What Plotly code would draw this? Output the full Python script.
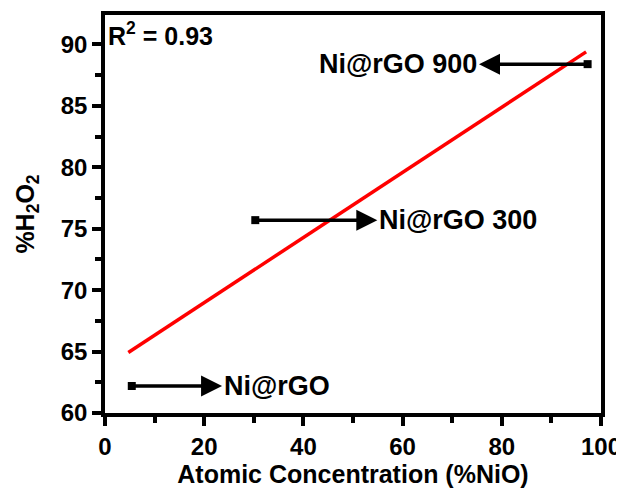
import numpy as np
import plotly.graph_objects as go

# Data
samples = ["Ni@rGO", "Ni@rGO 300", "Ni@rGO 900"]
nio_conc = [5.4, 30.3, 97.3]        # Atomic concentration (% NiO)
h2o2_pct = [62.2, 75.7, 88.4]       # % H2O2
r2_text = "R<sup>2</sup> = 0.93"

# Linear fit of the data
slope, intercept = np.polyfit(nio_conc, h2o2_pct, 1)
fit_x = np.array([min(nio_conc) - 0.7, max(nio_conc) - 0.3])
fit_y = slope * fit_x + intercept

FONT = "Liberation Sans, Arial, sans-serif"

fig = go.Figure()
fig.add_trace(go.Scatter(x=fit_x, y=fit_y, mode="lines",
                         line=dict(color="#ff0000", width=3.5), showlegend=False))
fig.add_trace(go.Scatter(x=nio_conc, y=h2o2_pct, mode="markers",
                         marker=dict(symbol="square", size=8, color="black"),
                         showlegend=False))

# arrow tips (x) and label anchoring for each sample
arrow_tips = [23.6, 54.9, 75.4]
label_side = ["left", "left", "right"]

annotations = []
for name, x0, y0, tip, side in zip(samples, nio_conc, h2o2_pct, arrow_tips, label_side):
    annotations.append(dict(x=tip, y=y0, ax=x0, ay=y0, xref="x", yref="y",
                            axref="x", ayref="y", text="", showarrow=True,
                            arrowhead=2, arrowsize=1.2, arrowwidth=3.5,
                            arrowcolor="black", standoff=0, startstandoff=0))
    annotations.append(dict(x=tip, y=y0,
                            xref="x", yref="y", text="<b>%s</b>" % name,
                            showarrow=False, xanchor=side, yanchor="middle",
                            font=dict(family=FONT, size=27, color="black")))
annotations.append(dict(x=0.003, y=0.997, xref="paper", yref="paper",
                        text="<b>%s</b>" % r2_text, showarrow=False,
                        xanchor="left", yanchor="top",
                        font=dict(family=FONT, size=25, color="black")))

axis_common = dict(showline=True, linewidth=3.5, linecolor="black", mirror=True,
                   ticks="outside", ticklen=9, tickwidth=3.5, tickcolor="black",
                   showgrid=False, zeroline=False, automargin=False,
                   tickfont=dict(family=FONT, size=24, color="black"))

fig.update_layout(
    width=616, height=486,
    margin=dict(l=97, r=23, t=7, b=81),
    plot_bgcolor="white", paper_bgcolor="white",
    annotations=annotations,
    xaxis=dict(range=[0, 100], dtick=20, tick0=0,
               minor=dict(dtick=10, ticklen=6, tickwidth=3.5, tickcolor="black", ticks="outside"),
               title=dict(text="<b>Atomic Concentration (%NiO)</b>", standoff=2,
                          font=dict(family=FONT, size=25, color="black")),
               tickprefix="<b>", ticksuffix="</b>",
               **axis_common),
    yaxis=dict(range=[60, 92.4], dtick=5, tick0=60,
               minor=dict(dtick=2.5, ticklen=6, tickwidth=3.5, tickcolor="black", ticks="outside"),
               title=dict(text="<b>%H<sub>2</sub>O<sub>2</sub></b>", standoff=20,
                          font=dict(family=FONT, size=25, color="black")),
               tickprefix="<b>", ticksuffix="</b>",
               **axis_common),
)

fig.write_html("out.html")
